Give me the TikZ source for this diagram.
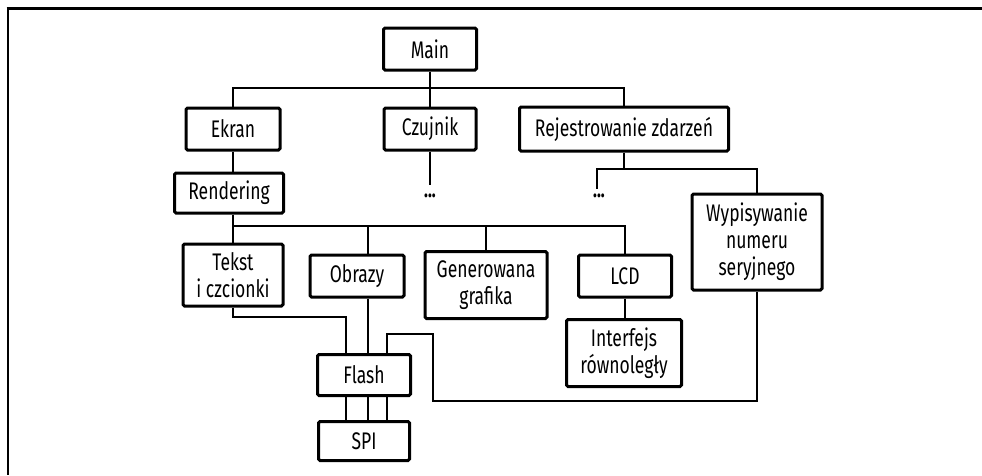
\documentclass[tikz,border=0pt]{standalone}
\usepackage{fontspec}
\setmainfont{Fira Sans}[FakeStretch=0.73]
\usepackage{tikz}
\usetikzlibrary{positioning, calc}

\begin{document}
\begin{tikzpicture}[x=1pt, y=-1pt,
    module/.style={draw, line width=3pt, rounded corners=1.5pt, fill=white, align=center, inner sep=0pt, font=\fontsize{24}{27}\selectfont},
    link/.style={line width=2pt},
    dots/.style={font=\fontsize{22}{27}\selectfont\bfseries, inner sep=1pt}]
  \useasboundingbox (0,0) rectangle (982,475);
  \draw[line width=2.6pt] (6.5,8.5) -- (982,8.5);
  \draw[line width=2.2pt] (8,7.5) -- (8,475);

  \node[module, minimum width=93pt, minimum height=42pt] (main) at (430,49) {Main};
  \node[module, minimum width=94pt, minimum height=42pt] (ekran) at (233,129) {Ekran};
  \node[module, minimum width=92pt, minimum height=42pt] (czujnik) at (430,129) {Czujnik};
  \node[module, minimum width=209pt, minimum height=44pt] (rejestr) at (624,129) {Rejestrowanie zdarzeń};
  \node[module, minimum width=109pt, minimum height=40pt] (rendering) at (229,193) {Rendering};
  \node[dots] (dots1) at (430,196) {...};
  \node[dots] (dots2) at (599,196) {...};
  \node[module, minimum width=130pt, minimum height=96pt] (wypis) at (757,242) {Wypisywanie\\numeru\\seryjnego};
  \node[module, minimum width=100pt, minimum height=62pt] (tekst) at (233,275) {Tekst\\i czcionki};
  \node[module, minimum width=94pt, minimum height=42pt] (obrazy) at (357,276) {Obrazy};
  \node[module, minimum width=122pt, minimum height=67pt] (generowana) at (486,285) {Generowana\\grafika};
  \node[module, minimum width=93pt, minimum height=42pt] (lcd) at (625,276) {LCD};
  \node[module, minimum width=115pt, minimum height=67pt] (interfejs) at (624,353) {Interfejs\\równoległy};
  \node[module, minimum width=93pt, minimum height=41pt] (flash) at (364,375) {Flash};
  \node[module, minimum width=91pt, minimum height=39pt] (spi) at (364,441) {SPI};

  \coordinate (busA) at (430,88);
  \coordinate (busB) at (624,169);
  \coordinate (busC) at (233,226);
  \coordinate (obrTop) at ($(obrazy.north)+(11,0)$);
  \coordinate (loopC) at (433,401);

  \begin{scope}[on background layer/.try]
  \draw[link] (main.south) -- (czujnik.north);
  \draw[link] (ekran.north) |- (busA) -| (rejestr.north);
  \draw[link] (czujnik.south) -- ($(dots1.north)+(0,-8)$);
  \draw[link] (rejestr.south) -- (busB);
  \draw[link] ($(dots2.north)+(-2,-4)$) |- (busB) -| (wypis.north);
  \draw[link] (ekran.south) -- (ekran.south |- rendering.north);
  \draw[link] (ekran.south |- rendering.south) -- (tekst.north);
  \draw[link] (busC) -| (lcd.north);
  \draw[link] (busC -| obrTop) -- (obrTop);
  \draw[link] (busC -| generowana.north) -- (generowana.north);
  \draw[link] (lcd.south) -- (lcd.south |- interfejs.north);
  \draw[link] (obrazy.south -| obrTop) -- (flash.north -| obrTop);
  \draw[link] (tekst.south) |- ($(flash.north)+(-18,-36)$) -- ($(flash.north)+(-18,0)$);
  \draw[link] ($(flash.north)+(23,0)$) -- ++(0,-19) -| (loopC) -| (wypis.south);
  \foreach \dx in {-18,4,23}
    \draw[link] ($(flash.south)+(\dx,0)$) -- ($(spi.north)+(\dx,0)$);
  \end{scope}
\end{tikzpicture}
\end{document}
